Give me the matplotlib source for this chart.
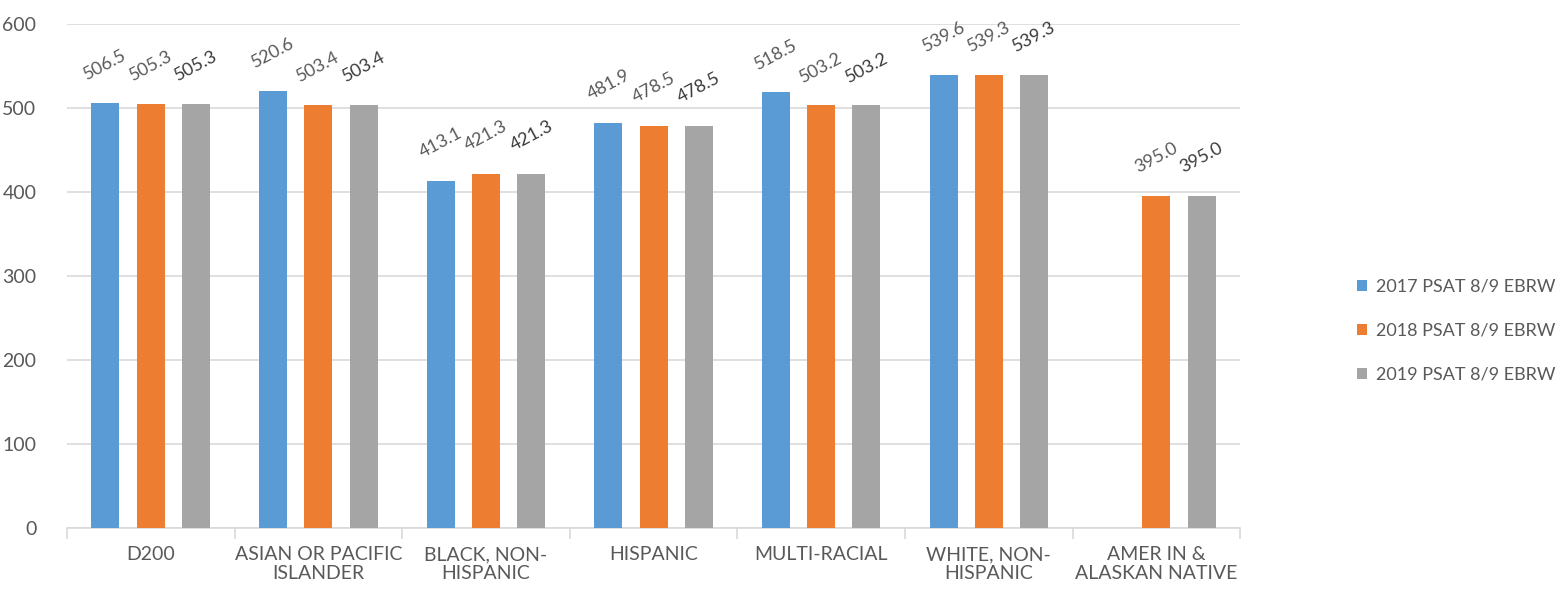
import numpy as np
import matplotlib
matplotlib.use("Agg")
import matplotlib.pyplot as plt
from matplotlib.ticker import FixedLocator

categories = ["D200", "ASIAN OR PACIFIC\nISLANDER", "BLACK, NON-\nHISPANIC", "HISPANIC",
              "MULTI-RACIAL", "WHITE, NON-\nHISPANIC", "AMER IN &\nALASKAN NATIVE"]
series_names = ["2017 PSAT 8/9 EBRW", "2018 PSAT 8/9 EBRW", "2019 PSAT 8/9 EBRW"]
v2017 = [506.5, 520.6, 413.1, 481.9, 518.5, 539.6, np.nan]
v2018 = [505.3, 503.4, 421.3, 478.5, 503.2, 539.3, 395.0]
v2019 = [505.3, 503.4, 421.3, 478.5, 503.2, 539.3, 395.0]
yticks = [0, 100, 200, 300, 400, 500, 600]

colors = ["#5B9BD5", "#ED7D31", "#A5A5A5"]
label_colors = ["#595959", "#595959", "#3A3A3A"]
text_color = "#595959"

plt.rcParams['font.family'] = ['Lato', 'DejaVu Sans']

fig = plt.figure(figsize=(15.64, 5.94), dpi=100)
ax = fig.add_axes([0.0428, 0.111, 0.7502, 0.8486])

x = np.arange(len(categories))
width = 0.167
offsets = [-0.27, 0.0, 0.27]
for vals, off, c, lc, name in zip([v2017, v2018, v2019], offsets, colors, label_colors, series_names):
    arr = np.array(vals, dtype=float)
    ax.bar(x + off, arr, width=width, color=c, label=name, zorder=3)
    for xi, v in zip(x + off, arr):
        if np.isnan(v):
            continue
        ax.annotate(f"{v:.1f}", xy=(xi, v), xytext=(0, 38), textcoords='offset pixels',
                    ha='center', va='center', rotation=28, fontsize=13, color=lc, zorder=4)

ax.set_xlim(-0.5, len(categories) - 0.5)
ax.set_ylim(0, 600)
ax.set_yticks(yticks)
ax.set_yticklabels([str(t) for t in yticks])
ax.yaxis.grid(True, color="#D9D9D9", linewidth=1.2, zorder=0)
ax.set_axisbelow(True)
for s in ["top", "right", "left"]:
    ax.spines[s].set_visible(False)
ax.spines["bottom"].set_color("#D9D9D9")
ax.spines["bottom"].set_linewidth(1.2)

ax.set_xticks(x)
ax.set_xticklabels(categories, fontsize=14, color=text_color, linespacing=1.15)
ax.xaxis.set_minor_locator(FixedLocator(np.arange(-0.5, len(categories), 1.0)))
ax.tick_params(axis='x', which='major', length=0, pad=13)
ax.tick_params(axis='x', which='minor', length=8, color="#D9D9D9", width=1.2)
ax.tick_params(axis='y', length=0, labelsize=14, labelcolor=text_color, pad=22)

fig.legend(loc='center left', bbox_to_anchor=(0.857, 0.443), frameon=False,
           fontsize=13, labelcolor=text_color, handlelength=0.6, handleheight=0.6,
           handletextpad=0.45, labelspacing=1.55)

fig.savefig("out.png", dpi=100, facecolor="white")
